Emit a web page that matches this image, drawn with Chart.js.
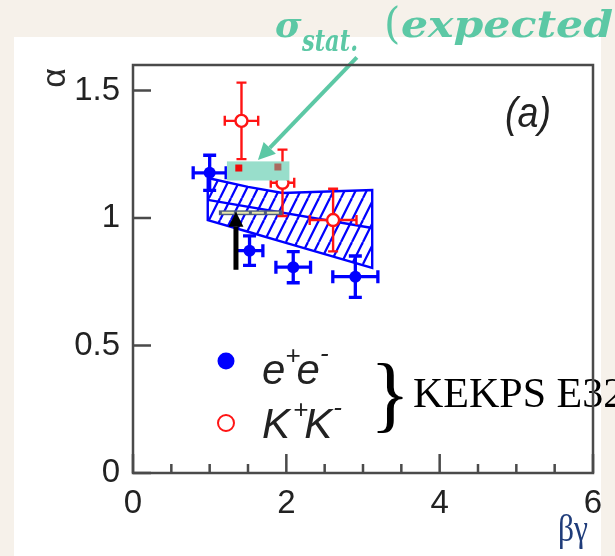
<!DOCTYPE html>
<html>
<head>
<meta charset="utf-8">
<script src="https://cdn.jsdelivr.net/npm/chart.js@4.4.0/dist/chart.umd.min.js"></script>
<style>
  html, body { margin: 0; padding: 0; background: #f6f1ea; }
  #wrap { width: 615px; height: 556px; }
</style>
</head>
<body>
<div id="wrap"><canvas id="myChart" width="615" height="556"></canvas></div>
<script>
// e+e- (filled) and K+K- (open)
let eeX = [1.00, 1.52, 2.09, 2.90]
let eeY = [1.177, 0.872, 0.807, 0.770]
let eeXerr = [0.215, 0.174, 0.226, 0.294]
let eeYerr = [0.069, 0.058, 0.061, 0.081]

let kkX = [1.415, 1.95, 2.61]
let kkY = [1.381, 1.138, 0.992]
let kkXerr = [0.218, 0.153, 0.305]
let kkYerr = [0.150, 0.130, 0.123]

// hatched band
let bandX = [0.975, 1.5, 1.95, 3.12]
let bandHi = [1.157, 1.122, 1.098, 1.110]
let bandLo = [0.992, 0.946, 0.906, 0.804]
let bandMidX = [0.975, 3.12]
let bandMidY = [1.071, 0.961]

// expected stat. box, its two marks, grey bar
let boxX = [1.225, 2.04]
let boxY = [1.147, 1.222]
let expX = [1.38, 1.89]
let expY = [1.196, 1.200]
let barX = [1.12, 1.95]
let barY = [1.011, 1.030]

// arrows: [from, to]
let greenArrowX = [2.92, 1.63]
let greenArrowY = [1.63, 1.227]
let blackArrowX = [1.343, 1.343]
let blackArrowY = [0.797, 1.025]

let xTicks = [0, 2, 4, 6]
let xMinor = [0.5, 1, 1.5, 2.5, 3, 3.5, 4.5, 5, 5.5]
let yTicks = [0, 0.5, 1, 1.5]

const blue = 'rgb(0,0,255)'
const red = 'rgb(255,20,20)'
const teal = 'rgb(92,200,165)'

const probe = document.createElement('canvas').getContext('2d')
function hasFont(name) {
  probe.font = '40px monospace'
  let a = probe.measureText('1.5 KEKe').width
  probe.font = `40px "${name}", monospace`
  return probe.measureText('1.5 KEKe').width != a
}
let haveNarrow = hasFont('Liberation Sans Narrow')
let narrow = haveNarrow ? '"Liberation Sans Narrow"' : '"Liberation Sans"'
let tickSize = haveNarrow ? 36 : 33

function hatch() {
  let c = document.createElement('canvas')
  c.width = 11
  c.height = 22
  let g = c.getContext('2d')
  g.strokeStyle = blue
  g.lineWidth = 2.2
  for (let dx of [-11, 0, 11]) {
    g.beginPath()
    g.moveTo(dx, 22)
    g.lineTo(dx + 11, 0)
    g.stroke()
  }
  return g.createPattern(c, 'repeat')
}

const pts = (xs, ys) => xs.map((x, i) => ({ x: x, y: ys[i] }))
let outline = pts(bandX, bandHi).concat(pts(bandX, bandLo).reverse())
outline.push(outline[0])

function arrow(ctx, x1, y1, x2, y2, w, head, color) {
  let a = Math.atan2(y2 - y1, x2 - x1)
  let bx = x2 - head * Math.cos(a), by = y2 - head * Math.sin(a)
  ctx.strokeStyle = color
  ctx.fillStyle = color
  ctx.lineWidth = w
  ctx.beginPath()
  ctx.moveTo(x1, y1)
  ctx.lineTo(bx, by)
  ctx.stroke()
  ctx.beginPath()
  ctx.moveTo(x2, y2)
  ctx.lineTo(bx + head * 0.5 * Math.sin(a), by - head * 0.5 * Math.cos(a))
  ctx.lineTo(bx - head * 0.5 * Math.sin(a), by + head * 0.5 * Math.cos(a))
  ctx.closePath()
  ctx.fill()
}

function errorBars(chart, xs, ys, xe, ye, color, lw, cap) {
  let ctx = chart.ctx, sx = chart.scales.x, sy = chart.scales.y
  ctx.save()
  ctx.strokeStyle = color
  ctx.lineWidth = lw
  xs.forEach((x, i) => {
    let px = sx.getPixelForValue(x), py = sy.getPixelForValue(ys[i])
    let l = sx.getPixelForValue(x - xe[i]), r = sx.getPixelForValue(x + xe[i])
    let t = sy.getPixelForValue(ys[i] + ye[i]), b = sy.getPixelForValue(ys[i] - ye[i])
    ctx.beginPath()
    ctx.moveTo(l, py); ctx.lineTo(r, py)
    ctx.moveTo(px, t); ctx.lineTo(px, b)
    ctx.moveTo(l, py - cap); ctx.lineTo(l, py + cap)
    ctx.moveTo(r, py - cap); ctx.lineTo(r, py + cap)
    ctx.moveTo(px - cap, t); ctx.lineTo(px + cap, t)
    ctx.moveTo(px - cap, b); ctx.lineTo(px + cap, b)
    ctx.stroke()
  })
  ctx.restore()
}

// draws pieces of text one after another, [text, font, dy, extra gap]
function pieces(ctx, parts, x, y) {
  for (let p of parts) {
    ctx.font = p[1]
    ctx.fillText(p[0], x, y + p[2])
    x += ctx.measureText(p[0]).width + (p[3] || 0)
  }
}

// text squeezed/stretched to a given width
function fitW(ctx, text, font, x, y, width) {
  ctx.font = font
  let w = ctx.measureText(text).width
  ctx.save()
  ctx.translate(x, y)
  ctx.scale(width / w, 1)
  ctx.fillText(text, 0, 0)
  ctx.restore()
}

const decor = {
  id: 'decor',
  beforeDraw(chart) {
    let ctx = chart.ctx
    ctx.save()
    ctx.fillStyle = '#f6f1ea'
    ctx.fillRect(0, 0, 615, 556)
    ctx.fillStyle = '#ffffff'
    ctx.fillRect(14, 37, 587, 519)
    ctx.restore()
  },
  beforeDatasetDraw(chart, args) {
    if (args.index === 0) errorBars(chart, eeX, eeY, eeXerr, eeYerr, blue, 3.3, 6.5)
    if (args.index === 1) errorBars(chart, kkX, kkY, kkXerr, kkYerr, red, 2.4, 5)
  },
  afterDatasetsDraw(chart) {
    let ctx = chart.ctx, sx = chart.scales.x, sy = chart.scales.y
    ctx.save()
    // expected box
    let bx1 = sx.getPixelForValue(boxX[0]), bx2 = sx.getPixelForValue(boxX[1])
    let by1 = sy.getPixelForValue(boxY[1]), by2 = sy.getPixelForValue(boxY[0])
    ctx.fillStyle = 'rgb(152,222,203)'
    ctx.fillRect(bx1, by1, bx2 - bx1, by2 - by1)
    let sqCol = ['rgb(240,10,10)', 'rgb(170,105,95)']
    expX.forEach((x, i) => {
      ctx.fillStyle = sqCol[i]
      ctx.fillRect(sx.getPixelForValue(x) - 3.5, sy.getPixelForValue(expY[i]) - 3.5, 7, 7)
    })
    // grey bar
    let gx1 = sx.getPixelForValue(barX[0]), gx2 = sx.getPixelForValue(barX[1])
    let gy1 = sy.getPixelForValue(barY[1]), gy2 = sy.getPixelForValue(barY[0])
    ctx.fillStyle = 'rgb(78,92,125)'
    ctx.fillRect(gx1, gy1, gx2 - gx1, gy2 - gy1)
    ctx.strokeStyle = 'rgb(232,232,170)'
    ctx.lineWidth = 2
    ctx.setLineDash([12, 3])
    ctx.beginPath()
    ctx.moveTo(gx1 + 3, (gy1 + gy2) / 2)
    ctx.lineTo(gx2 - 3, (gy1 + gy2) / 2)
    ctx.stroke()
    ctx.setLineDash([])
    // arrows
    arrow(ctx, sx.getPixelForValue(greenArrowX[0]), sy.getPixelForValue(greenArrowY[0]),
      sx.getPixelForValue(greenArrowX[1]), sy.getPixelForValue(greenArrowY[1]), 4, 17, teal)
    arrow(ctx, sx.getPixelForValue(blackArrowX[0]), sy.getPixelForValue(blackArrowY[0]),
      sx.getPixelForValue(blackArrowX[1]), sy.getPixelForValue(blackArrowY[1]), 5, 15, '#000')

    // legend
    ctx.fillStyle = blue
    ctx.beginPath()
    ctx.arc(226, 361, 8.5, 0, Math.PI * 2)
    ctx.fill()
    ctx.strokeStyle = red
    ctx.lineWidth = 2
    ctx.fillStyle = '#fff'
    ctx.beginPath()
    ctx.arc(226, 423, 8, 0, Math.PI * 2)
    ctx.fill()
    ctx.stroke()
    ctx.fillStyle = '#222'
    ctx.textBaseline = 'alphabetic'
    let big = `italic 42px ${narrow}`, small = `italic 26px ${narrow}`
    pieces(ctx, [['e', big, 0], ['+', small, -20, -4], ['e', big, 0], ['-', small, -22]], 262, 384)
    pieces(ctx, [['K', big, 0, 3], ['+', small, -20, -4], ['K', big, 0, 1], ['-', small, -22]], 262, 438)

    // brace and label
    ctx.fillStyle = '#000'
    ctx.font = '80px "Liberation Serif"'
    let m = ctx.measureText('}')
    let k = 70 / (m.actualBoundingBoxAscent + m.actualBoundingBoxDescent)
    ctx.font = (80 * k).toFixed(1) + 'px "Liberation Serif"'
    m = ctx.measureText('}')
    ctx.fillText('}', 370, 363 + m.actualBoundingBoxAscent)
    ctx.font = '42px "Liberation Serif"'
    ctx.fillText('KEKPS E32', 413, 407)
    ctx.restore()
  },
  afterDraw(chart) {
    let ctx = chart.ctx, sx = chart.scales.x, sy = chart.scales.y, a = chart.chartArea
    ctx.save()
    ctx.strokeStyle = '#4a4a4a'
    ctx.lineWidth = 2.5
    ctx.strokeRect(a.left, a.top, a.right - a.left, a.bottom - a.top)
    ctx.beginPath()
    yTicks.forEach(v => {
      let p = sy.getPixelForValue(v)
      ctx.moveTo(a.left, p); ctx.lineTo(a.left + 18, p)
    })
    xTicks.forEach(v => {
      let p = sx.getPixelForValue(v)
      ctx.moveTo(p, a.bottom); ctx.lineTo(p, a.bottom - 19)
    })
    xMinor.forEach(v => {
      let p = sx.getPixelForValue(v)
      ctx.moveTo(p, a.bottom); ctx.lineTo(p, a.bottom - 9)
    })
    ctx.stroke()

    // (a)
    ctx.fillStyle = '#222'
    ctx.textBaseline = 'alphabetic'
    fitW(ctx, '(a)', `italic 42px ${narrow}`, 505, 127, 46)
    // alpha, rotated
    ctx.save()
    ctx.translate(56, 78)
    ctx.rotate(-Math.PI / 2)
    ctx.textAlign = 'center'
    ctx.textBaseline = 'middle'
    ctx.font = '34px "Liberation Sans"'
    ctx.fillStyle = '#2a2a2a'
    ctx.fillText('α', 0, 0)
    ctx.restore()
    // beta gamma
    ctx.fillStyle = '#1f3c7a'
    fitW(ctx, 'βγ', '38px "Liberation Serif"', 558, 541, 30)

    // sigma_stat.(expected
    ctx.fillStyle = teal
    ctx.font = 'bold italic 36px "DejaVu Serif"'
    ctx.fillText('σ', 275, 37)
    fitW(ctx, 'stat.', 'bold italic 29px "DejaVu Serif"', 302, 51, 56)
    ctx.font = '42px "DejaVu Serif"'
    ctx.fillText('(', 384, 38)
    fitW(ctx, 'expected', 'bold italic 37px "DejaVu Serif"', 401, 37, 212)
    ctx.restore()
  }
}

let tickFont = { family: narrow, size: tickSize }
const fmt = v => String(v)

let myChart = new Chart(document.getElementById('myChart'), {
  type: 'scatter',
  data: {
    datasets: [
      {
        label: 'e+e-',
        data: pts(eeX, eeY),
        pointRadius: 6,
        pointBackgroundColor: blue,
        pointBorderWidth: 0,
        order: 0
      },
      {
        label: 'K+K-',
        data: pts(kkX, kkY),
        pointRadius: 6,
        pointBackgroundColor: '#fff',
        pointBorderColor: red,
        pointBorderWidth: 2.4,
        order: 1
      },
      {
        label: 'band upper',
        data: pts(bandX, bandHi),
        showLine: true,
        pointRadius: 0,
        borderColor: 'transparent',
        backgroundColor: hatch(),
        fill: '+1',
        order: 6
      },
      {
        label: 'band lower',
        data: pts(bandX, bandLo),
        showLine: true,
        pointRadius: 0,
        borderColor: 'transparent',
        fill: false,
        order: 7
      },
      {
        label: 'band outline',
        data: outline,
        showLine: true,
        pointRadius: 0,
        borderColor: blue,
        borderWidth: 2.4,
        fill: false,
        order: 5
      },
      {
        label: 'band centre',
        data: pts(bandMidX, bandMidY),
        showLine: true,
        pointRadius: 0,
        borderColor: blue,
        borderWidth: 2.4,
        fill: false,
        order: 5
      }
    ]
  },
  options: {
    responsive: false,
    animation: false,
    layout: { padding: { top: 65, right: 22, left: 0, bottom: 0 } },
    plugins: { legend: { display: false }, tooltip: { enabled: false } },
    scales: {
      x: {
        type: 'linear',
        min: 0,
        max: 6,
        afterFit: s => { s.height = 83 },
        afterBuildTicks: s => { s.ticks = xTicks.map(v => ({ value: v })) },
        grid: { display: false, drawTicks: false },
        border: { display: false },
        ticks: { font: tickFont, color: '#222', padding: 11, maxRotation: 0, autoSkip: false, callback: fmt }
      },
      y: {
        type: 'linear',
        min: 0,
        max: 1.6,
        afterFit: s => { s.width = 133 },
        afterBuildTicks: s => { s.ticks = yTicks.map(v => ({ value: v })) },
        grid: { display: false, drawTicks: false },
        border: { display: false },
        ticks: { font: tickFont, color: '#222', padding: 13, autoSkip: false, callback: fmt }
      }
    }
  },
  plugins: [decor]
})
</script>
</body>
</html>
